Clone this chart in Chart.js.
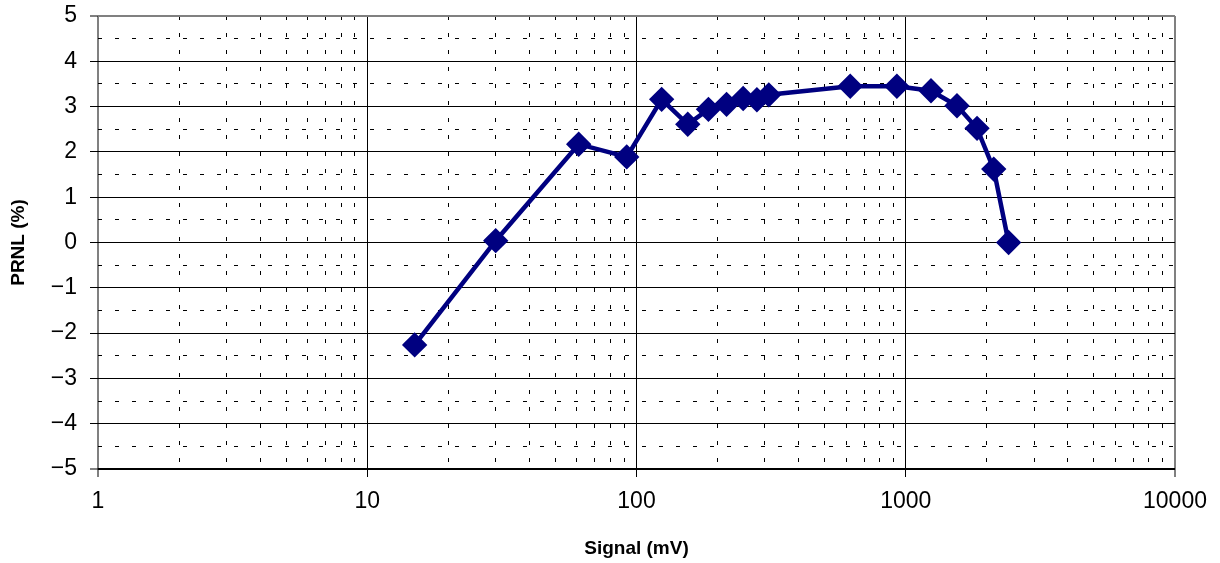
<!DOCTYPE html>
<html>
<head>
<meta charset="utf-8">
<script src="https://cdn.jsdelivr.net/npm/chart.js@4/dist/chart.umd.min.js"></script>
<style>
  body { margin: 0; background: #fff; }
</style>
</head>
<body>
<canvas id="prnlChart" width="1220" height="563"></canvas>
<script>
// data
const signal = [15, 30, 61, 92, 124, 155, 185, 216, 249, 280, 310, 622, 927, 1241, 1550, 1840, 2122, 2410];
const prnl = [-2.26, 0.04, 2.17, 1.89, 3.16, 2.61, 2.94, 3.05, 3.18, 3.15, 3.26, 3.45, 3.45, 3.35, 3.02, 2.52, 1.62, 0.0];

// axes
const xTicks = [1, 10, 100, 1000, 10000];
const yTicks = [-5, -4, -3, -2, -1, 0, 1, 2, 3, 4, 5];

// minor grid positions (2..9 in each decade, half steps on y)
const xMinor = [];
for (let d = 1; d < 10000; d *= 10) for (let k = 2; k <= 9; k++) xMinor.push(d * k);
const yMinor = yTicks.slice(0, -1).map(v => v + 0.5);

const navy = '#000080';
const font = 'Arial, "Liberation Sans", Helvetica, sans-serif';

const edge = (ctx, n) => ctx.index === 0 || ctx.index === n - 1;

new Chart(document.getElementById('prnlChart'), {
  type: 'line',
  data: {
    datasets: [{
      data: signal.map((s, i) => ({ x: s, y: prnl[i] })),
      borderColor: navy,
      backgroundColor: navy,
      borderWidth: 4.5,
      pointStyle: 'rectRot',
      pointRadius: 9.5,
      pointHoverRadius: 9.5,
      tension: 0
    }]
  },
  options: {
    responsive: false,
    animation: false,
    layout: { padding: { top: 16, right: 45, left: 0, bottom: 0 } },
    plugins: { legend: { display: false }, tooltip: { enabled: false } },
    scales: {
      x: {
        type: 'logarithmic',
        min: 1, max: 10000,
        afterBuildTicks: s => { s.ticks = xTicks.map(v => ({ value: v })); },
        afterFit: s => { s.height = 94; },
        ticks: {
          callback: v => String(v),
          color: '#000',
          padding: 11,
          maxRotation: 0,
          font: { family: font, size: 23 }
        },
        grid: {
          color: ctx => edge(ctx, xTicks.length) ? '#808080' : '#000',
          lineWidth: ctx => edge(ctx, xTicks.length) ? 2 : 1,
          tickColor: '#000',
          tickLength: 8,
          tickWidth: 1
        },
        border: { display: false },
        title: {
          display: true,
          text: 'Signal (mV)',
          color: '#000',
          font: { family: font, size: 19, weight: 'bold' },
          padding: { top: 0, bottom: 3 }
        }
      },
      x2: {
        type: 'logarithmic',
        position: 'bottom',
        min: 1, max: 10000,
        afterBuildTicks: s => { s.ticks = xMinor.map(v => ({ value: v })); },
        afterFit: s => { s.height = 0; },
        ticks: { display: false },
        grid: { color: '#000', lineWidth: 1, drawTicks: false },
        border: { display: false, dash: [4, 13] }
      },
      y: {
        type: 'linear',
        min: -5, max: 5,
        afterBuildTicks: s => { s.ticks = yTicks.map(v => ({ value: v })); },
        afterFit: s => { s.width = 98; s.paddingTop = 0; s.paddingBottom = 0; },
        ticks: {
          callback: v => v < 0 ? '\u2212' + Math.abs(v) : String(v),
          color: '#000',
          padding: 13,
          font: { family: font, size: 23 }
        },
        grid: {
          color: ctx => ctx.index === 0 ? '#000' : (ctx.index === yTicks.length - 1 ? '#808080' : '#000'),
          lineWidth: ctx => edge(ctx, yTicks.length) ? 2 : 1,
          tickColor: '#000',
          tickLength: 8,
          tickWidth: 1
        },
        border: { display: false },
        title: {
          display: true,
          text: 'PRNL (%)',
          color: '#000',
          font: { family: font, size: 19, weight: 'bold' },
          padding: { top: 7, bottom: 0 }
        }
      },
      y2: {
        type: 'linear',
        position: 'left',
        min: -5, max: 5,
        afterBuildTicks: s => { s.ticks = yMinor.map(v => ({ value: v })); },
        afterFit: s => { s.width = 0; },
        ticks: { display: false },
        grid: { color: '#000', lineWidth: 1, drawTicks: false },
        border: { display: false, dash: [4, 13] }
      }
    }
  }
});
</script>
</body>
</html>
